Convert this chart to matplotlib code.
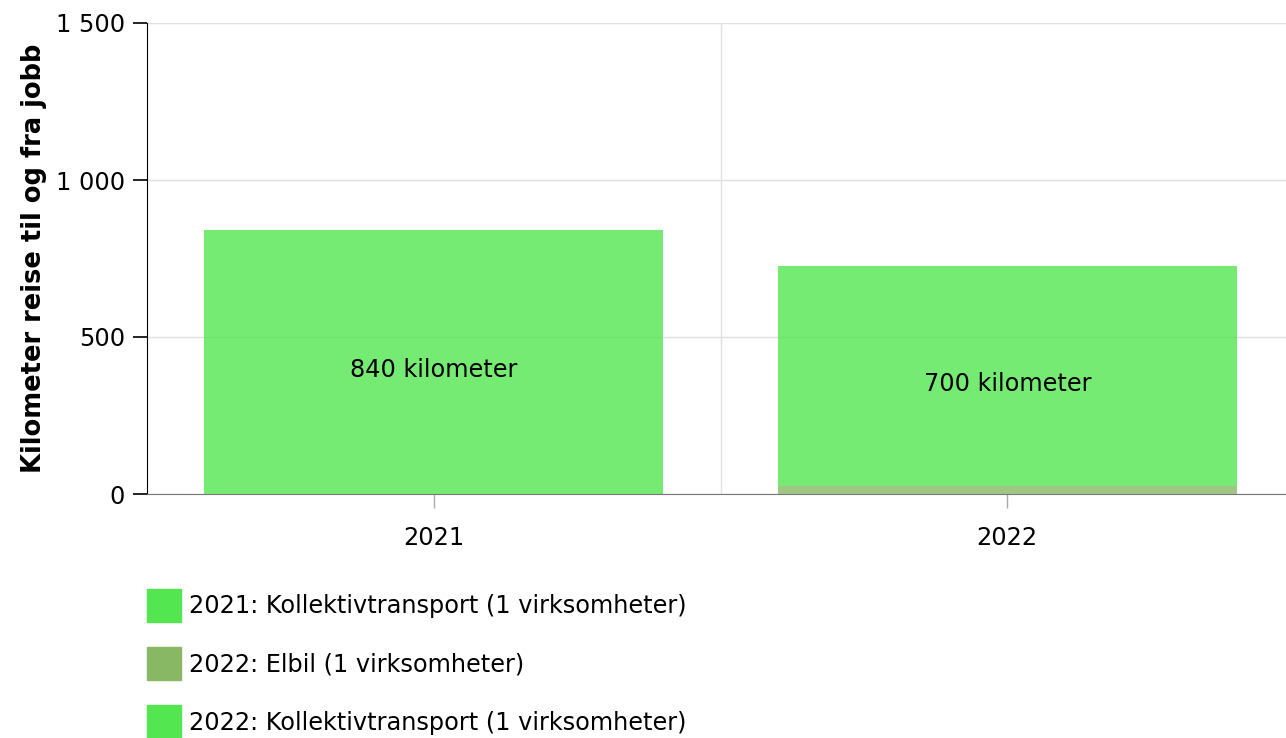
import matplotlib.pyplot as plt
from matplotlib.patches import Patch
from matplotlib.ticker import FuncFormatter

years = ["2021", "2022"]
elbil = [0, 24]
kollektiv = [840, 702]
bar_labels = ["840 kilometer", "700 kilometer"]
legend_labels = ["2021: Kollektivtransport (1 virksomheter)",
                 "2022: Elbil (1 virksomheter)",
                 "2022: Kollektivtransport (1 virksomheter)"]

green = "#53e650"
olive = "#88b864"

plt.rcParams["font.family"] = "DejaVu Sans"

fig = plt.figure(figsize=(12.86, 7.38), dpi=100)
ax = fig.add_axes([147 / 1286, 1 - 494 / 738, 1147 / 1286, 471 / 738])

x = list(range(len(years)))
ax.bar(x, elbil, 0.8, color=olive, alpha=0.8, zorder=3)
ax.bar(x, kollektiv, 0.8, bottom=elbil, color=green, alpha=0.8, zorder=3)

for i in x:
    if kollektiv[i] > 0:
        ax.annotate(bar_labels[i], (i, elbil[i] + kollektiv[i] / 2),
                    xytext=(0, -8), textcoords="offset pixels",
                    ha="center", va="center", fontsize=17.3, color="black", zorder=4)

ax.set_xlim(-0.5, 1.5)
ax.set_ylim(0, 1500)
ax.set_yticks([0, 500, 1000, 1500])
ax.yaxis.set_major_formatter(FuncFormatter(lambda v, p: f"{int(v):,}".replace(",", " ")))
ax.set_xticks(x)
ax.set_xticklabels(years)

ax.grid(axis="y", color="#e0e0e0", linewidth=1, zorder=0)
ax.axvline(0.5, color="#e0e0e0", linewidth=1, zorder=0)

for s in ["top", "right"]:
    ax.spines[s].set_visible(False)
ax.spines["left"].set_color("black")
ax.spines["bottom"].set_color("#777777")
ax.tick_params(axis="y", length=10, width=1.2, color="black", labelsize=17.3, pad=6)
ax.tick_params(axis="x", length=10, width=1, color="#aaaaaa", labelsize=17.3, pad=13)

ax.set_ylabel("Kilometer reise til og fra jobb", fontsize=18.5, fontweight="bold", labelpad=6)

handles = [Patch(color=green), Patch(color=olive), Patch(color=green)]
fig.legend(handles, legend_labels, loc="upper left", bbox_to_anchor=(147 / 1286, 1 - 589 / 738),
           frameon=False, fontsize=17.3, handlelength=1.4, handleheight=1.75,
           handletextpad=0.34, labelspacing=1.04, borderpad=0, borderaxespad=0)

fig.savefig("out.png", dpi=100)
